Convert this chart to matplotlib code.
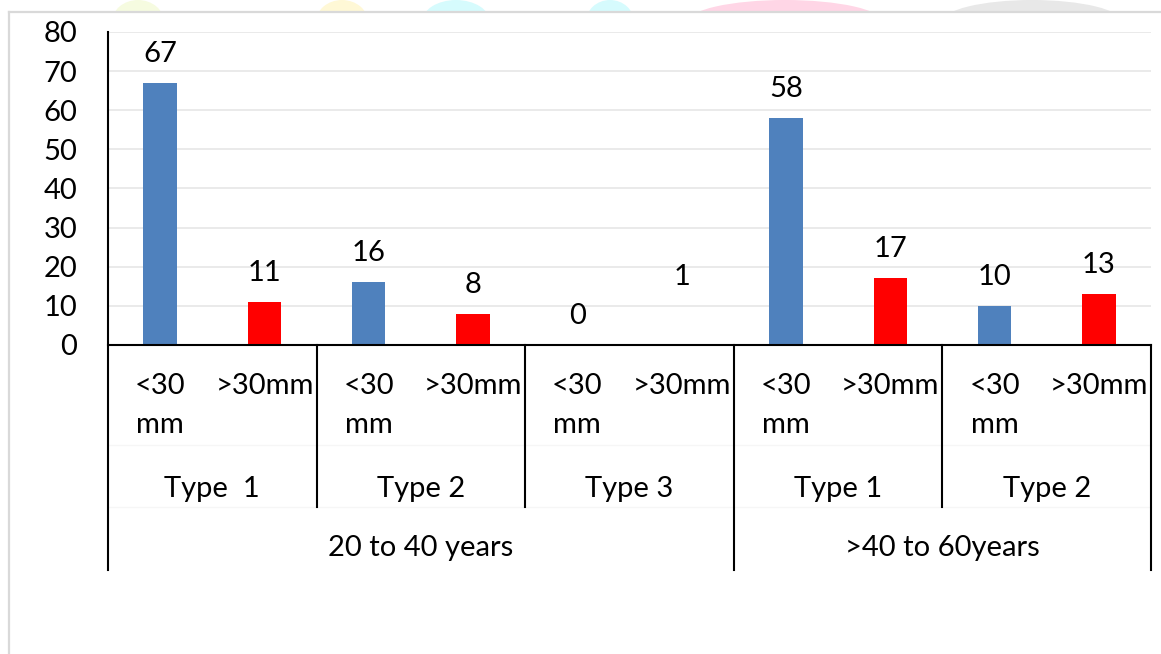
import matplotlib
matplotlib.use("Agg")
import matplotlib.pyplot as plt
from matplotlib.patches import Ellipse, Rectangle
from matplotlib.lines import Line2D

# ---- data ----
age_groups = ["20 to 40 years", ">40 to 60years"]
type_groups = ["Type  1", "Type 2", "Type 3", "Type 1", "Type 2"]
type_age = [0, 0, 0, 1, 1]
size_labels = ["<30\nmm", ">30mm"]
lt30_values = [67, 16, 0, 58, 10]
gt30_values = [11, 8, 0, 17, 13]
lt30_labels = ["67", "16", "0", "58", "10"]
gt30_labels = ["11", "8", "1", "17", "13"]
y_ticks = [0, 10, 20, 30, 40, 50, 60, 70, 80]

BLUE = "#4f81bd"
RED = "#ff0000"
FONT = "Lato"
FS = 21

W, H = 1161, 654
fig = plt.figure(figsize=(W / 100, H / 100), dpi=100)
fig.patch.set_facecolor("white")

def fx(px):
    return px / W

def fy(py):
    return 1 - py / H

# decorative blobs at the top (faint)
blobs = [(138, 52, "#f6fbe0"), (342, 52, "#fff8d6"), (456, 68, "#d6fbfd"),
         (610, 48, "#d6fbfd"), (785, 195, "#ffd6e6"), (1032, 180, "#e8e8e8")]
for cx, w, c in blobs:
    fig.add_artist(Ellipse((fx(cx), fy(22)), fx(w), 44 / H, facecolor=c,
                           edgecolor="none", transform=fig.transFigure, zorder=-3))
fig.add_artist(Rectangle((fx(9), 0), 1, fy(12), facecolor="white", edgecolor="none",
                         transform=fig.transFigure, zorder=-2))
fig.add_artist(Line2D([fx(9), fx(9)], [0, fy(12)], color="#d9d9d9", lw=1.6,
                      transform=fig.transFigure, zorder=-1))
fig.add_artist(Line2D([fx(9), 1], [fy(12), fy(12)], color="#d9d9d9", lw=1.6,
                      transform=fig.transFigure, zorder=-1))

left, right, top, bottom = 108, 1151, 32, 345
ax = fig.add_axes([fx(left), fy(bottom), fx(right - left), (bottom - top) / H])
ax.set_facecolor("none")

n = len(type_groups)
xs_blue = [2 * i for i in range(n)]
xs_red = [2 * i + 1 for i in range(n)]
bw = 0.32
ax.bar(xs_blue, lt30_values, width=bw, color=BLUE, zorder=3)
ax.bar(xs_red, gt30_values, width=bw, color=RED, zorder=3)

ax.set_xlim(-0.5, 2 * n - 0.5)
ax.set_ylim(0, 80)
ax.set_yticks(y_ticks)
ax.set_yticklabels([str(v) for v in y_ticks], fontfamily=FONT, fontsize=FS)
ax.tick_params(axis="y", length=0, pad=22)
ax.set_xticks([])
for s in ["top", "right", "bottom", "left"]:
    ax.spines[s].set_visible(False)
ax.grid(axis="y", color="#e6e6e6", lw=1.2, zorder=0)
ax.set_axisbelow(True)

# data labels
for x, v, lab in zip(xs_blue, lt30_values, lt30_labels):
    ax.annotate(lab, (x, v), xytext=(0, 21), textcoords="offset points",
                ha="center", va="center", fontfamily=FONT, fontsize=FS)
for x, v, lab in zip(xs_red, gt30_values, gt30_labels):
    off = 21 if v > 0 else 49
    ax.annotate(lab, (x, v), xytext=(0, off), textcoords="offset points",
                ha="center", va="center", fontfamily=FONT, fontsize=FS)

# category axis structure (pixel -> axes coords)
def ay(py):
    return (bottom - py) / (bottom - top)

tr = ax.get_xaxis_transform()
lk = dict(color="black", lw=1.5, clip_on=False, transform=tr, zorder=5)
ax.plot([-0.5, 2 * n - 0.5], [0, 0], **lk)
ax.plot([-0.5, -0.5], [ay(570), 1], **lk)
# faint row separators
ax.plot([-0.5, 2 * n - 0.5], [ay(445), ay(445)], color="#f6f6f6", lw=1, clip_on=False, transform=tr)
ax.plot([-0.5, 2 * n - 0.5], [ay(507), ay(507)], color="#f6f6f6", lw=1, clip_on=False, transform=tr)

for i in range(1, n + 1):
    xb = 2 * i - 0.5
    if i == n or type_age[i] != type_age[i - 1]:
        ax.plot([xb, xb], [ay(570), 0], **lk)
    else:
        ax.plot([xb, xb], [ay(507), 0], **lk)

tk = dict(fontfamily=FONT, fontsize=FS, transform=tr, clip_on=False, ha="center")
for i in range(n):
    ax.text(2 * i, ay(373), size_labels[0], va="top", linespacing=1.62, **tk)
    ax.text(2 * i + 1, ay(373), size_labels[1], va="top", **tk)
    ax.text(2 * i + 0.5, ay(489), type_groups[i], va="center", **tk)
for a, name in enumerate(age_groups):
    idx = [i for i in range(n) if type_age[i] == a]
    xc = (2 * idx[0] + 2 * idx[-1] + 1) / 2
    ax.text(xc, ay(548), name, va="center", **tk)

fig.savefig("out.png", dpi=100)
